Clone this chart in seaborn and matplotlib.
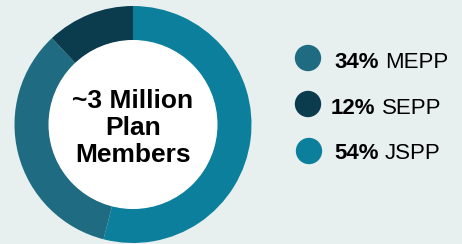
import matplotlib
matplotlib.use("Agg")
import matplotlib.pyplot as plt
import seaborn as sns
import pandas as pd
from matplotlib.patches import Circle

# Data
plans = ["JSPP", "MEPP", "SEPP"]
shares = [54, 34, 12]
colors = ["#0b7f9c", "#1f6c82", "#0a3c4e"]
legend_order = ["MEPP", "SEPP", "JSPP"]
center_lines = ["~3 Million", "Plan", "Members"]

BG = "#e7efef"
W, H = 462, 244

sns.set_theme(style="white", rc={"figure.facecolor": BG, "axes.facecolor": BG})
plt.rcParams["font.family"] = ["Liberation Sans", "DejaVu Sans"]

fig = plt.figure(figsize=(W / 100, H / 100), dpi=100)
ax = fig.add_axes([0, 0, 1, 1])

cx, cy = 133, H - 124.5
r_out, r_in = 118.5, 84

ax.pie(shares, colors=colors, startangle=90, counterclock=False,
       center=(cx, cy), radius=r_out,
       wedgeprops=dict(width=r_out - r_in, linewidth=0))
ax.add_patch(Circle((cx, cy), r_in + 0.5, facecolor="white", edgecolor="none", zorder=3))

# center text
baselines = [108, 135, 162]
for line, b in zip(center_lines, baselines):
    ax.text(cx, H - b, line, ha="center", va="baseline", fontsize=19,
            fontweight="bold", color="black", zorder=4)

# legend
color_map = dict(zip(plans, colors))
share_map = dict(zip(plans, shares))
leg_df = pd.DataFrame({
    "x": [308, 308, 309],
    "y": [H - 58, H - 104, H - 151],
    "plan": legend_order,
})
sns.scatterplot(data=leg_df, x="x", y="y", hue="plan", palette=color_map,
                s=360, linewidth=0, legend=False, ax=ax, zorder=5)

text_x = [334, 331, 334]
text_base = [68, 113.5, 159]
for p, tx, tb in zip(legend_order, text_x, text_base):
    t = ax.text(tx, H - tb, f"{share_map[p]}%", ha="left", va="baseline",
                fontsize=16, fontweight="bold", color="black", zorder=5)
    ax.annotate(p, xy=(1, 0), xycoords=t, xytext=(4.5, 0),
                textcoords="offset points", ha="left", va="bottom",
                fontsize=16, color="black", zorder=5)

ax.set_xlim(0, W)
ax.set_ylim(0, H)
ax.set_aspect("equal")
ax.axis("off")

fig.savefig("out.png", dpi=100, facecolor=BG)
